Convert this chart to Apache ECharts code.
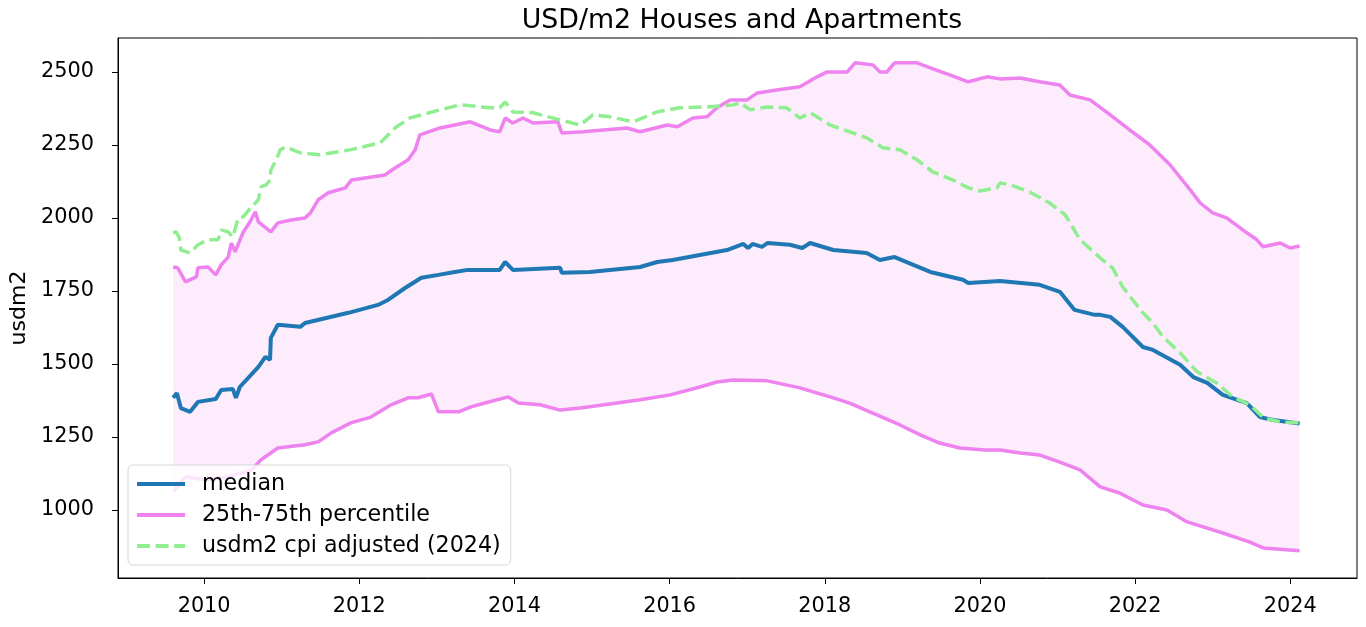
<!DOCTYPE html>
<html><head><meta charset="utf-8">
<script src="https://cdn.jsdelivr.net/npm/echarts@6/dist/echarts.min.js"></script>
<style>html,body{margin:0;padding:0;background:#fff}#c{width:1366px;height:627px}</style>
</head><body><div id="c"></div>
<script>
const title = 'USD/m2 Houses and Apartments';
const yName = 'usdm2';
const xTicks = [2010, 2012, 2014, 2016, 2018, 2020, 2022, 2024];
const yTicks = [1000, 1250, 1500, 1750, 2000, 2250, 2500];
const names = ['median', '25th-75th percentile', 'usdm2 cpi adjusted (2024)'];

const median = [[2009.60,1384],[2009.65,1400],[2009.70,1349],[2009.82,1336],[2009.92,1370],[2010.15,1380],[2010.22,1411],[2010.37,1414],[2010.41,1384],[2010.46,1421],[2010.70,1490],[2010.79,1524],[2010.85,1514],[2010.86,1589],[2010.95,1634],[2011.24,1627],[2011.30,1640],[2011.86,1675],[2012.24,1702],[2012.37,1719],[2012.59,1760],[2012.80,1795],[2013.02,1805],[2013.23,1815],[2013.40,1822],[2013.81,1822],[2013.88,1849],[2013.98,1822],[2014.59,1829],[2014.61,1812],[2014.97,1815],[2015.62,1832],[2015.84,1849],[2016.04,1856],[2016.39,1873],[2016.74,1890],[2016.95,1911],[2017.01,1897],[2017.07,1911],[2017.19,1901],[2017.26,1914],[2017.55,1908],[2017.71,1897],[2017.81,1914],[2018.11,1890],[2018.54,1880],[2018.71,1856],[2018.90,1866],[2019.36,1815],[2019.78,1788],[2019.85,1777],[2020.26,1784],[2020.77,1771],[2021.03,1747],[2021.22,1685],[2021.48,1668],[2021.55,1668],[2021.68,1661],[2021.84,1627],[2022.10,1558],[2022.23,1548],[2022.58,1497],[2022.75,1455],[2022.93,1435],[2023.13,1394],[2023.44,1366],[2023.61,1318],[2023.78,1308],[2024.12,1296]];

const p75 = [[2009.60,1832],[2009.66,1829],[2009.76,1781],[2009.90,1798],[2009.92,1829],[2010.05,1832],[2010.15,1805],[2010.22,1839],[2010.31,1866],[2010.35,1914],[2010.40,1884],[2010.50,1949],[2010.59,1986],[2010.66,2021],[2010.70,1986],[2010.86,1952],[2010.95,1983],[2011.12,1993],[2011.30,2000],[2011.37,2017],[2011.47,2062],[2011.60,2086],[2011.82,2103],[2011.90,2130],[2012.33,2147],[2012.46,2171],[2012.63,2199],[2012.72,2233],[2012.78,2284],[2013.04,2308],[2013.43,2329],[2013.69,2301],[2013.81,2295],[2013.88,2342],[2013.98,2325],[2014.11,2342],[2014.24,2325],[2014.56,2329],[2014.61,2291],[2014.88,2295],[2015.45,2308],[2015.62,2295],[2015.97,2318],[2016.10,2312],[2016.30,2342],[2016.48,2346],[2016.61,2377],[2016.78,2404],[2017.00,2404],[2017.13,2428],[2017.38,2438],[2017.68,2449],[2017.90,2483],[2018.03,2500],[2018.29,2500],[2018.39,2531],[2018.62,2524],[2018.71,2500],[2018.80,2500],[2018.90,2531],[2019.19,2531],[2019.36,2514],[2019.61,2490],[2019.85,2466],[2020.09,2483],[2020.26,2476],[2020.52,2479],[2020.77,2466],[2021.03,2455],[2021.16,2421],[2021.42,2404],[2021.68,2353],[2021.93,2301],[2022.19,2250],[2022.45,2182],[2022.71,2096],[2022.84,2051],[2023.00,2017],[2023.18,2000],[2023.44,1949],[2023.57,1925],[2023.65,1901],[2023.87,1914],[2024.00,1897],[2024.12,1904]];

const p25 = [[2009.60,1062],[2009.76,1113],[2010.01,1103],[2010.31,1113],[2010.61,1137],[2010.73,1171],[2010.95,1212],[2011.30,1223],[2011.47,1233],[2011.64,1264],[2011.89,1298],[2012.15,1318],[2012.41,1360],[2012.63,1384],[2012.76,1384],[2012.93,1397],[2013.02,1336],[2013.28,1336],[2013.44,1353],[2013.62,1366],[2013.92,1387],[2014.05,1366],[2014.33,1360],[2014.59,1342],[2014.85,1349],[2015.23,1363],[2015.62,1377],[2016.01,1394],[2016.39,1421],[2016.61,1438],[2016.82,1445],[2017.26,1442],[2017.68,1418],[2018.11,1384],[2018.32,1366],[2018.58,1336],[2018.97,1291],[2019.23,1257],[2019.48,1229],[2019.74,1212],[2020.06,1205],[2020.26,1205],[2020.52,1195],[2020.77,1188],[2021.03,1164],[2021.29,1137],[2021.55,1079],[2021.80,1058],[2022.10,1017],[2022.41,1000],[2022.67,959],[2023.13,921],[2023.48,890],[2023.65,870],[2024.12,860]];

const cpi = [[2009.60,1949],[2009.64,1952],[2009.68,1932],[2009.70,1890],[2009.82,1880],[2009.92,1908],[2010.05,1925],[2010.18,1925],[2010.22,1959],[2010.31,1952],[2010.37,1935],[2010.44,2000],[2010.50,2003],[2010.61,2038],[2010.66,2051],[2010.70,2062],[2010.73,2106],[2010.80,2113],[2010.85,2130],[2010.86,2164],[2010.93,2199],[2010.98,2233],[2011.05,2243],[2011.24,2223],[2011.49,2216],[2011.88,2233],[2012.27,2257],[2012.46,2308],[2012.65,2342],[2013.04,2370],[2013.30,2387],[2013.69,2377],[2013.81,2377],[2013.88,2397],[2013.98,2363],[2014.24,2360],[2014.68,2329],[2014.85,2318],[2015.01,2353],[2015.23,2346],[2015.53,2329],[2015.84,2363],[2016.13,2377],[2016.48,2380],[2016.82,2387],[2016.91,2394],[2017.04,2370],[2017.26,2380],[2017.51,2377],[2017.68,2342],[2017.81,2360],[2018.07,2318],[2018.32,2295],[2018.54,2274],[2018.75,2240],[2018.97,2233],[2019.19,2199],[2019.39,2158],[2019.65,2130],[2019.85,2103],[2020.00,2092],[2020.22,2103],[2020.26,2120],[2020.39,2113],[2020.64,2089],[2020.90,2051],[2021.10,2010],[2021.29,1925],[2021.48,1880],[2021.55,1863],[2021.71,1829],[2021.84,1764],[2021.97,1719],[2022.10,1675],[2022.23,1640],[2022.36,1592],[2022.58,1538],[2022.80,1473],[2023.05,1435],[2023.26,1387],[2023.48,1360],[2023.66,1315],[2023.88,1301],[2024.12,1298]];

const font = 'DejaVu Sans';
const chart = echarts.init(document.getElementById('c'), null, {renderer: 'canvas'});
chart.setOption({
  animation: false,
  backgroundColor: '#fff',
  title: {text: title, left: 737, top: 3, textAlign: 'center',
    textStyle: {fontFamily: font, fontSize: 26.8, fontWeight: 'normal', color: '#000'}},
  grid: {left: 118, right: 9, top: 38, bottom: 49, show: true, borderColor: '#000', borderWidth: 1, backgroundColor: 'transparent'},
  xAxis: {type: 'value', min: 2008.89, max: 2024.86,
    splitLine: {show: false},
    axisLine: {show: true, lineStyle: {color: '#000', width: 1}},
    axisTick: {show: true, length: 6, customValues: xTicks, lineStyle: {color: '#000', width: 1}},
    axisLabel: {customValues: xTicks, color: '#000', fontFamily: font, fontSize: 20.8, margin: 18, formatter: v => String(v)}},
  yAxis: {type: 'value', min: 767, max: 2616,
    name: yName, nameLocation: 'middle', nameGap: 82.5,
    nameTextStyle: {fontFamily: font, fontSize: 22, color: '#000'},
    splitLine: {show: false},
    axisLine: {show: true, lineStyle: {color: '#000', width: 1}},
    axisTick: {show: true, length: 6, customValues: yTicks, lineStyle: {color: '#000', width: 1}},
    axisLabel: {customValues: yTicks, color: '#000', fontFamily: font, fontSize: 20.8, margin: 24, formatter: v => String(v)}},
  legend: {data: names, orient: 'vertical', left: 128, top: 465,
    backgroundColor: 'rgba(255,255,255,0.8)', borderColor: '#d8d8d8', borderWidth: 1, borderRadius: 5,
    padding: [7, 10, 7, 7], itemWidth: 48, itemHeight: 14, itemGap: 7,
    itemStyle: {opacity: 0},
    lineStyle: {width: 4},
    textStyle: {fontFamily: font, fontSize: 22.2, color: '#000', lineHeight: 24, padding: [0, 0, 0, 12]}},
  series: [
    {type: 'custom', name: 'band', silent: true, z: 1, clip: true,
      data: [[2016, 1500]],
      renderItem: (params, api) => {
        const pts = p75.map(d => api.coord(d)).concat(p25.slice().reverse().map(d => api.coord(d)));
        return {type: 'polygon', shape: {points: pts}, style: {fill: 'rgba(238,130,238,0.15)'}};
      }},
    {type: 'line', name: names[1], data: p25, symbol: 'none', z: 2,
      lineStyle: {color: 'violet', width: 3.5}, itemStyle: {color: 'violet'}},
    {type: 'line', name: names[1], data: p75, symbol: 'none', z: 2,
      lineStyle: {color: 'violet', width: 3.5}, itemStyle: {color: 'violet'}},
    {type: 'line', name: names[0], data: median, symbol: 'none', z: 3,
      lineStyle: {color: '#1f77b4', width: 4}, itemStyle: {color: '#1f77b4'}},
    {type: 'line', name: names[2], data: cpi, symbol: 'none', z: 4,
      lineStyle: {color: 'lightgreen', width: 3.5, type: [13, 5.6]}, itemStyle: {color: 'lightgreen'}}
  ]
});
</script></body></html>
